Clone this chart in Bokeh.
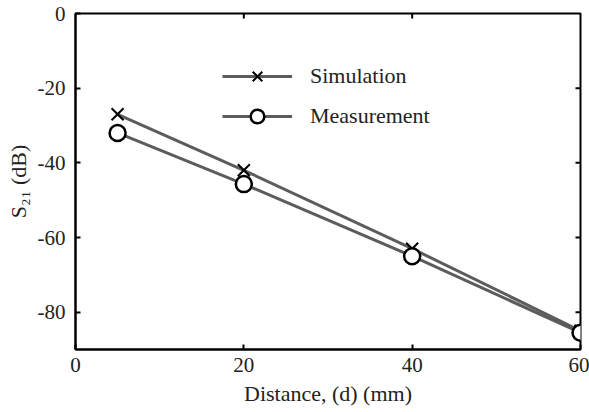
import math
from bokeh.plotting import figure
from bokeh.models import Legend, LegendItem, Range1d, FixedTicker
from bokeh.embed import file_html
from bokeh.resources import INLINE

distance = [5, 20, 40, 60]
simulation = [-27, -42, -63, -85]
measurement = [-32, -45.7, -65, -85.5]
x_ticks = [0, 20, 40, 60]
y_ticks = [0, -20, -40, -60, -80]
x_tick_labels = ["0", "20", "40", "60"]
y_tick_labels = ["0", "-20", "-40", "-60", "-80"]

FONT = "Liberation Serif"
LINE = "#5c5c5c"
TXT = "#222222"

p = figure(width=589, height=412, output_backend="svg", toolbar_location=None,
           x_range=Range1d(0, 60), y_range=Range1d(-90, 0),
           min_border_left=75, min_border_right=9, min_border_top=13, min_border_bottom=63,
           x_axis_label="Distance, (d) (mm)", y_axis_label="S₂₁ (dB)")
p.grid.visible = False
p.outline_line_color = "black"
p.outline_line_width = 2
p.background_fill_color = "white"
p.border_fill_color = "white"

for ax, ticks, labels in ((p.xaxis[0], x_ticks, x_tick_labels),
                          (p.yaxis[0], y_ticks, y_tick_labels)):
    ax.ticker = FixedTicker(ticks=ticks)
    ax.major_label_overrides = {t: s for t, s in zip(ticks, labels)}
    ax.minor_tick_line_color = None
    ax.major_tick_in = 5
    ax.major_tick_out = 0
    ax.major_tick_line_width = 2
    ax.axis_line_width = 2
    ax.axis_line_color = "black"
    ax.major_label_text_font = FONT
    ax.major_label_text_font_size = "21px"
    ax.major_label_text_color = TXT
    ax.axis_label_text_font = FONT
    ax.axis_label_text_font_size = "22px"
    ax.axis_label_text_font_style = "normal"
    ax.axis_label_text_color = TXT

p.xaxis[0].major_label_standoff = 8
p.yaxis[0].major_label_standoff = 10
p.xaxis[0].axis_label_standoff = 6
p.yaxis[0].axis_label_standoff = 4

# inward ticks on the top and right edges of the box
top_ticks = x_ticks[1:-1]
right_ticks = y_ticks[1:]
p.scatter(top_ticks, [p.y_range.end] * len(top_ticks), marker="dash", size=10,
          angle=math.pi / 2, line_color="black", line_width=2)
p.scatter([p.x_range.end] * len(right_ticks), right_ticks, marker="dash", size=10,
          line_color="black", line_width=2)

l1 = p.line(distance, simulation, line_color=LINE, line_width=3)
s1 = p.scatter(distance, simulation, marker="x", size=17, line_color="black", line_width=2)
l2 = p.line(distance, measurement, line_color=LINE, line_width=3)
s2 = p.scatter(distance, measurement, marker="circle", size=16, line_color="black",
               line_width=2.5, fill_color="white")

legend = Legend(items=[LegendItem(label="Simulation", renderers=[l1, s1]),
                       LegendItem(label="Measurement", renderers=[l2, s2])],
                location=(147, 216), glyph_width=70, glyph_height=34,
                label_standoff=18, spacing=6, padding=0, margin=0,
                border_line_color=None, background_fill_alpha=0,
                label_text_font=FONT, label_text_font_size="22px",
                label_text_color=TXT)
p.add_layout(legend)

open("out.html", "w").write(file_html(p, INLINE))
